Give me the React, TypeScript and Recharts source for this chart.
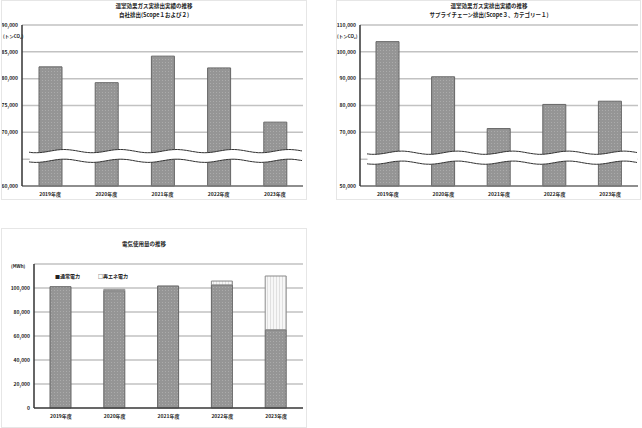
import React from 'react';
import { BarChart, Bar, XAxis, YAxis, CartesianGrid, ReferenceArea } from 'recharts';

const years = ['2019年度', '2020年度', '2021年度', '2022年度', '2023年度'];
const scope12 = [82200, 79250, 84200, 82000, 71900];
const scope3 = [103800, 90700, 71400, 80400, 81600];
const normalPower = [101100, 97800, 101700, 102600, 65200];
const renewPower = [0, 1100, 0, 3200, 44800];

const scope12Ticks = [60000, 65000, 70000, 75000, 80000, 85000, 90000];
const scope3Ticks = [50000, 60000, 70000, 80000, 90000, 100000, 110000];
const powerTicks = [0, 20000, 40000, 60000, 80000, 100000];

const FONT = '"Noto Sans CJK JP", "Noto Sans", sans-serif';
const tickStyle = { fontSize: 5, fontWeight: 700, fill: '#222', fontFamily: FONT };

const fmt = (v: number) => v.toLocaleString('en-US');

// wavy "axis break" drawn over the bars
function BreakShape(props: any) {
  const { x, y, width, height } = props;
  const left = x + 7;
  const right = x + width;
  const period = width / 5;
  const off = (px: number) => 1.6 * Math.sin(((px - x) / period) * Math.PI * 2);
  const wave = (y0: number) => {
    let d = '';
    for (let px = left; px <= right; px += 1.5) {
      d += (d ? 'L' : 'M') + px.toFixed(1) + ',' + (y0 + off(px)).toFixed(1);
    }
    return d;
  };
  const pts: string[] = [];
  for (let px = left; px <= right; px += 1.5) pts.push(`${px},${y + off(px)}`);
  for (let px = right; px >= left; px -= 1.5) pts.push(`${px},${y + height + off(px)}`);
  return (
    <g>
      <polygon points={pts.join(' ')} fill="#fff" />
      <path d={wave(y)} stroke="#333" strokeWidth={1} fill="none" />
      <path d={wave(y + height)} stroke="#333" strokeWidth={1} fill="none" />
    </g>
  );
}

function Patterns() {
  return (
    <defs>
      <pattern id="dotDark" width="3" height="3" patternUnits="userSpaceOnUse">
        <rect width="3" height="3" fill="#959595" />
        <rect x="1" y="1" width="1" height="1" fill="#ababab" />
      </pattern>
      <pattern id="dotLight" width="3" height="3" patternUnits="userSpaceOnUse">
        <rect width="3" height="3" fill="#f7f7f7" />
        <rect x="1" y="0" width="1" height="3" fill="#e0e0e0" />
      </pattern>
    </defs>
  );
}

const panel: React.CSSProperties = {
  position: 'absolute',
  border: '1px solid #e6e6e6',
  boxSizing: 'border-box',
  background: '#fff',
};

const titleStyle: React.CSSProperties = {
  position: 'absolute',
  fontSize: 5.5,
  fontWeight: 700,
  fontFamily: FONT,
  color: '#222',
  whiteSpace: 'nowrap',
  transform: 'translate(-50%, -50%)',
  lineHeight: 1,
};

const unitStyle: React.CSSProperties = {
  position: 'absolute',
  fontSize: 4.5,
  fontWeight: 700,
  fontFamily: FONT,
  color: '#222',
  whiteSpace: 'nowrap',
  lineHeight: 1,
};

function EmissionChart({
  values, ticks, hidden, brk, width, yWidth, right,
}: {
  values: number[]; ticks: number[]; hidden: number; brk: [number, number];
  width: number; yWidth: number; right: number;
}) {
  const data = years.map((y, i) => ({ year: y, value: values[i] }));
  return (
    <BarChart width={width} height={199} data={data} margin={{ top: 24, right, bottom: 0, left: 0 }}>
      <Patterns />
      <CartesianGrid vertical={false} stroke="#c2c2c2" strokeWidth={1.5} />
      <XAxis dataKey="year" height={14} tick={tickStyle} tickLine={false} tickSize={0} tickMargin={6}
        axisLine={{ stroke: '#777', strokeWidth: 1.5 }} />
      <YAxis width={yWidth} domain={[ticks[0], ticks[ticks.length - 1]]} ticks={ticks} interval={0}
        tick={tickStyle} tickLine={false} tickSize={0} tickMargin={4}
        tickFormatter={(v: number) => (v === hidden ? '' : fmt(v))}
        axisLine={{ stroke: '#333', strokeWidth: 1.5 }} />
      <YAxis yAxisId="r" orientation="right" width={0} tick={false} tickLine={false}
        axisLine={{ stroke: '#666', strokeWidth: 1.5 }} />
      <Bar dataKey="value" fill="url(#dotDark)" stroke="#666" strokeWidth={1} barSize={23}
        isAnimationActive={false} />
      <ReferenceArea y1={brk[0]} y2={brk[1]} shape={<BreakShape />} zIndex={1000} ifOverflow="visible" />
    </BarChart>
  );
}

function PowerChart() {
  const data = years.map((y, i) => ({ year: y, normal: normalPower[i], renew: renewPower[i] }));
  return (
    <BarChart width={305} height={199} data={data} margin={{ top: 35, right: 4, bottom: 0, left: 0 }}>
      <Patterns />
      <CartesianGrid vertical={false} stroke="#c2c2c2" strokeWidth={1.5} />
      <XAxis dataKey="year" height={20} tick={tickStyle} tickLine={false} tickSize={0} tickMargin={6}
        axisLine={{ stroke: '#444', strokeWidth: 1.5 }} />
      <XAxis xAxisId="t" dataKey="year" orientation="top" height={0} tick={false} tickLine={false}
        axisLine={{ stroke: '#444', strokeWidth: 1.5 }} />
      <YAxis width={32} domain={[0, 120000]} ticks={powerTicks} interval={0}
        tick={tickStyle} tickLine={false} tickSize={0} tickMargin={4} tickFormatter={fmt}
        axisLine={{ stroke: '#333', strokeWidth: 1.5 }} />
      <YAxis yAxisId="r" orientation="right" width={0} tick={false} tickLine={false}
        axisLine={{ stroke: '#444', strokeWidth: 1.5 }} />
      <Bar dataKey="normal" stackId="a" fill="url(#dotDark)" stroke="#666" strokeWidth={1} barSize={21}
        isAnimationActive={false} />
      <Bar dataKey="renew" stackId="a" fill="url(#dotLight)" stroke="#8a8a8a" strokeWidth={1} barSize={21}
        isAnimationActive={false} />
    </BarChart>
  );
}

export default function App() {
  return (
    <div style={{ position: 'absolute', left: 0, top: 0, width: 642, height: 428, background: '#fff', fontFamily: FONT }}>
      <div style={{ ...panel, left: 1, top: 0, width: 306, height: 200 }}>
        <EmissionChart values={scope12} ticks={scope12Ticks} hidden={65000} brk={[66500, 64700]}
          width={305} yWidth={20} right={4} />
        <div style={{ ...titleStyle, left: 152, top: 6 }}>温室効果ガス実排出実績の推移</div>
        <div style={{ ...titleStyle, left: 152, top: 15 }}>自社排出(Scope１および２)</div>
        <div style={{ ...unitStyle, left: 1, top: 33 }}>(トンCO₂)</div>
      </div>
      <div style={{ ...panel, left: 336, top: 0, width: 305, height: 200 }}>
        <EmissionChart values={scope3} ticks={scope3Ticks} hidden={60000} brk={[62400, 58700]}
          width={304} yWidth={23} right={3} />
        <div style={{ ...titleStyle, left: 152, top: 6 }}>温室効果ガス実排出実績の推移</div>
        <div style={{ ...titleStyle, left: 152, top: 15 }}>サプライチェーン排出(Scope３、カテゴリー１)</div>
        <div style={{ ...unitStyle, left: 0, top: 33 }}>(トンCO₂)</div>
      </div>
      <div style={{ ...panel, left: 1, top: 228, width: 306, height: 200 }}>
        <PowerChart />
        <div style={{ ...titleStyle, left: 142, top: 16 }}>電気使用量の推移</div>
        <div style={{ ...unitStyle, left: 9, top: 35 }}>(MWh)</div>
        <div style={{ ...unitStyle, fontSize: 5, left: 53, top: 44, display: 'flex', gap: 18 }}>
          <span>■通常電力</span>
          <span>□再エネ電力</span>
        </div>
      </div>
    </div>
  );
}
